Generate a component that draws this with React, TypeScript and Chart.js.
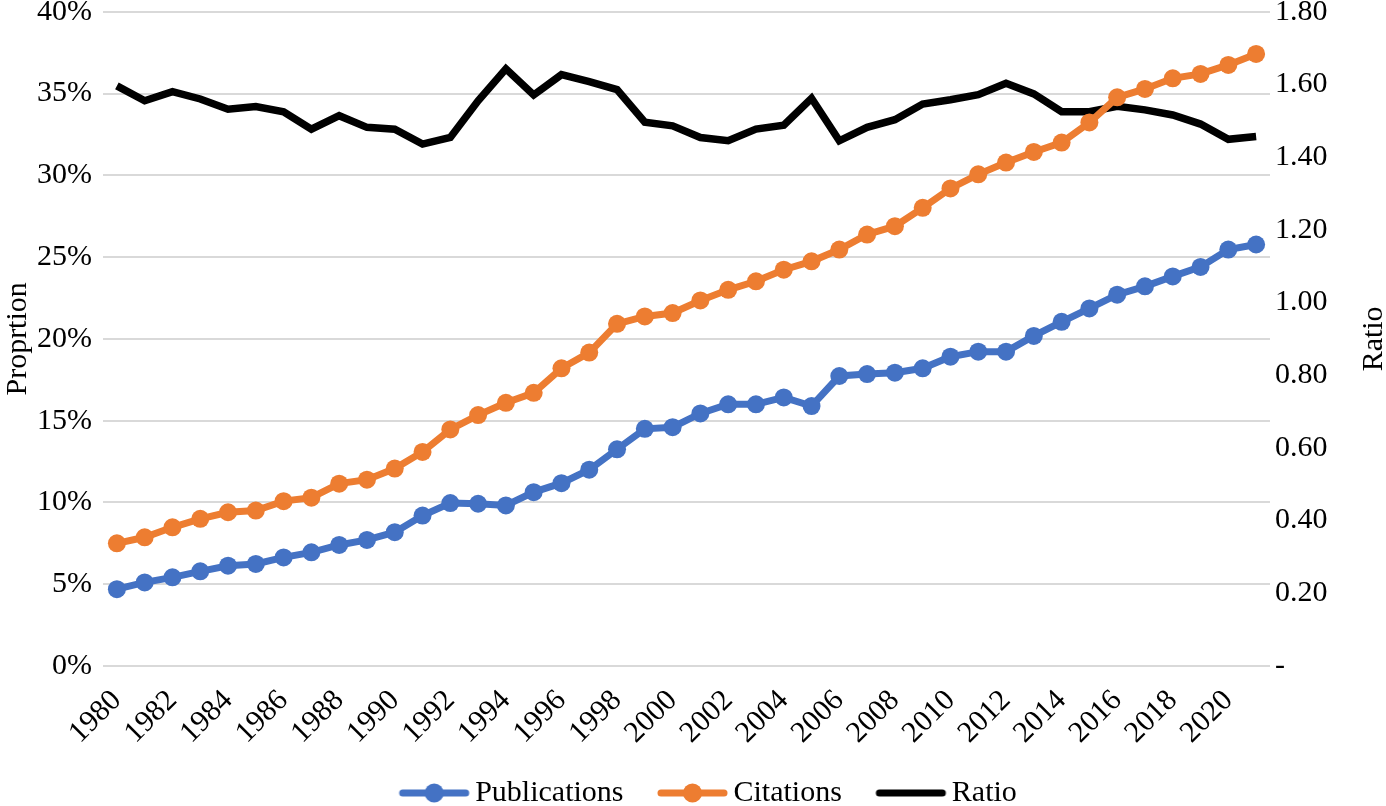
import { useEffect, useRef } from 'react';
import { Chart, registerables } from 'chart.js';

Chart.register(...registerables);

const YEARS = [
  '1980', '1981', '1982', '1983', '1984', '1985', '1986', '1987', '1988', '1989',
  '1990', '1991', '1992', '1993', '1994', '1995', '1996', '1997', '1998', '1999',
  '2000', '2001', '2002', '2003', '2004', '2005', '2006', '2007', '2008', '2009',
  '2010', '2011', '2012', '2013', '2014', '2015', '2016', '2017', '2018', '2019',
  '2020', '2021',
];

// share in percent (left axis)
const PUBLICATIONS = [
  4.70, 5.11, 5.42, 5.79, 6.13, 6.24, 6.64, 6.95, 7.40, 7.71,
  8.18, 9.20, 9.96, 9.92, 9.82, 10.63, 11.18, 12.0, 13.25, 14.5,
  14.6, 15.44, 16.0, 16.0, 16.42, 15.89, 17.73, 17.85, 17.93, 18.2,
  18.91, 19.22, 19.22, 20.18, 21.04, 21.86, 22.7, 23.21, 23.82, 24.4,
  25.46, 25.77,
];

const CITATIONS = [
  7.50, 7.87, 8.48, 9.0, 9.4, 9.5, 10.08, 10.29, 11.15, 11.39,
  12.07, 13.09, 14.46, 15.34, 16.09, 16.7, 18.2, 19.16, 20.92, 21.37,
  21.58, 22.35, 23.0, 23.52, 24.23, 24.74, 25.46, 26.38, 26.89, 28.01,
  29.2, 30.06, 30.78, 31.43, 32.0, 33.23, 34.77, 35.28, 35.93, 36.2,
  36.75, 37.42,
];

// right axis
const RATIO = [
  1.596, 1.555, 1.580, 1.560, 1.532, 1.539, 1.525, 1.477, 1.514, 1.482,
  1.477, 1.436, 1.454, 1.555, 1.643, 1.571, 1.627, 1.608, 1.586, 1.496,
  1.486, 1.454, 1.445, 1.477, 1.488, 1.562, 1.445, 1.482, 1.503, 1.546,
  1.558, 1.572, 1.603, 1.574, 1.525, 1.525, 1.540, 1.530, 1.516, 1.491,
  1.449, 1.457,
];

const FONT = "'Liberation Serif', 'Times New Roman', serif";
const FS = 30;
const BLUE = '#4472C4';
const ORANGE = '#ED7D31';
const BLACK = '#000000';

// legend swatch: line with optional round marker, like Excel
// the image is wider than the legend box so the line sits close to its text
function legendIcon(color: string, dot: boolean) {
  const c = document.createElement('canvas');
  c.width = 120;
  c.height = 22;
  const g = c.getContext('2d')!;
  g.strokeStyle = color;
  g.lineWidth = 7;
  g.lineCap = 'round';
  g.beginPath();
  g.moveTo(48, 11);
  g.lineTo(111, 11);
  g.stroke();
  if (dot) {
    g.fillStyle = color;
    g.beginPath();
    g.arc(79.5, 11, 9.5, 0, Math.PI * 2);
    g.fill();
  }
  return c;
}

const rightTitle = {
  id: 'rightTitle',
  afterDraw(chart: Chart) {
    const { ctx, chartArea } = chart;
    ctx.save();
    ctx.translate(1374, (chartArea.top + chartArea.bottom) / 2);
    ctx.rotate(-Math.PI / 2);
    ctx.font = `${FS}px ${FONT}`;
    ctx.fillStyle = '#000';
    ctx.textAlign = 'center';
    ctx.textBaseline = 'middle';
    ctx.fillText('Ratio', 0, 0);
    ctx.restore();
  },
};

export default function App() {
  const canvasRef = useRef<HTMLCanvasElement>(null);

  useEffect(() => {
    if (!canvasRef.current) return;
    const icons = [legendIcon(BLUE, true), legendIcon(ORANGE, true), legendIcon(BLACK, false)];

    const chart = new Chart(canvasRef.current, {
      type: 'line',
      data: {
        labels: YEARS,
        datasets: [
          {
            label: 'Publications',
            data: PUBLICATIONS,
            yAxisID: 'y',
            borderColor: BLUE,
            backgroundColor: BLUE,
            borderWidth: 7,
            pointRadius: 9,
            pointBorderWidth: 0,
            pointBackgroundColor: BLUE,
            order: 2,
          },
          {
            label: 'Citations',
            data: CITATIONS,
            yAxisID: 'y',
            borderColor: ORANGE,
            backgroundColor: ORANGE,
            borderWidth: 7,
            pointRadius: 9,
            pointBorderWidth: 0,
            pointBackgroundColor: ORANGE,
            order: 1,
          },
          {
            label: 'Ratio',
            data: RATIO,
            yAxisID: 'y1',
            borderColor: BLACK,
            backgroundColor: BLACK,
            borderWidth: 7.5,
            pointRadius: 0,
            order: 3,
          },
        ],
      },
      options: {
        responsive: true,
        maintainAspectRatio: false,
        animation: false,
        // legend text is cut at the bottom edge in the original
        layout: { padding: { top: 0, left: 0, right: 0, bottom: -12 } },
        plugins: {
          tooltip: { enabled: false },
          legend: {
            position: 'bottom',
            labels: {
              usePointStyle: true,
              pointStyleWidth: 91,
              padding: 4,
              color: '#000',
              font: { family: FONT, size: FS },
              generateLabels: (c: Chart) =>
                c.data.datasets.map((ds, i) => ({
                  text: ds.label as string,
                  pointStyle: icons[i],
                  fillStyle: ds.borderColor as string,
                  strokeStyle: ds.borderColor as string,
                  lineWidth: 0,
                  hidden: false,
                  datasetIndex: i,
                })),
            },
          },
        },
        scales: {
          x: {
            offset: true,
            grid: { display: false, drawTicks: false },
            border: { display: false },
            ticks: {
              autoSkip: false,
              maxRotation: 45,
              minRotation: 45,
              padding: 17,
              color: '#000',
              font: { family: FONT, size: FS },
              callback: (_v, i) => (i % 2 === 0 ? YEARS[i] : ''),
            },
            afterFit: (s) => {
              s.height = 108;
            },
          },
          y: {
            position: 'left',
            min: 0,
            max: 40,
            grid: { color: '#D9D9D9', lineWidth: 2, drawTicks: false },
            border: { display: false },
            ticks: {
              stepSize: 5,
              padding: 11,
              color: '#000',
              font: { family: FONT, size: FS, lineHeight: 0.05 },
              callback: (v) => `${v}%`,
            },
            title: {
              display: true,
              text: 'Proprtion',
              color: '#000',
              font: { family: FONT, size: FS },
              padding: 0,
            },
            afterFit: (s) => {
              s.width = 103;
            },
          },
          y1: {
            position: 'right',
            min: 0,
            max: 1.8,
            grid: { display: false, drawTicks: false },
            border: { display: false },
            ticks: {
              stepSize: 0.2,
              padding: 5,
              color: '#000',
              font: { family: FONT, size: FS, lineHeight: 0.05 },
              callback: (v) => (Number(v) === 0 ? '-' : Number(v).toFixed(2)),
            },
            afterFit: (s) => {
              s.width = 116;
            },
          },
        },
      },
      plugins: [rightTitle],
    });

    return () => chart.destroy();
  }, []);

  return (
    <div style={{ position: 'fixed', left: 0, top: 0, width: 1386, height: 806, background: '#fff' }}>
      <canvas ref={canvasRef}></canvas>
    </div>
  );
}
